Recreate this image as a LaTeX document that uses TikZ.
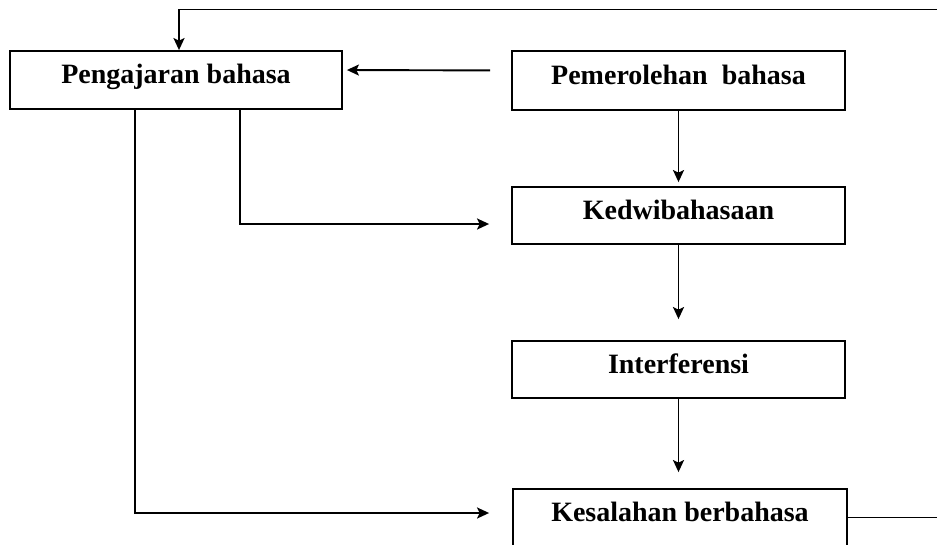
\documentclass[tikz,border=0pt]{standalone}
\usepackage{fontspec}
\setmainfont{Liberation Serif}
\usetikzlibrary{arrows.meta,calc}
\begin{document}
\begin{tikzpicture}[x=1pt,y=-1pt,
  box/.style={draw, line width=1.8pt, minimum width=333pt, minimum height=57pt,
    inner sep=0pt, text height=15pt, text depth=8pt,
    font=\fontsize{28}{30}\selectfont\bfseries},
  link/.style={line width=1.9pt},
  arr/.style={link, -{Stealth[length=12pt,width=11pt,inset=2.5pt]}}]
\useasboundingbox (0,0) rectangle (937,544);
\clip (0,0) rectangle (937,544);

% boxes
\node[box, minimum width=332pt, minimum height=58pt] (peng) at (176,80) {Pengajaran bahasa};
\node[box, minimum height=59pt] (pem) at (678.5,80.5) {Pemerolehan\ \ bahasa};
\node[box] (kedwi) at (678.5,215.5) {Kedwibahasaan};
\node[box] (interf) at (678.5,369.5) {Interferensi};
\node[box, minimum width=334pt] (kesal) at (680,517.5) {Kesalahan berbahasa};

% main chain
\draw[arr, shorten >=4pt] (pem) -- (kedwi);
\draw[arr, shorten >=21pt] (kedwi) -- (interf);
\draw[arr, shorten >=16pt] (interf.south) -- (interf.south |- kesal.north);

% acquisition feeds teaching
\draw[arr, shorten <=21pt, shorten >=4pt] ([yshift=10pt]pem.west) -- ([yshift=10pt]peng.east);

% teaching feeds bilingualism and errors
\draw[arr, shorten >=22pt] (peng.south -| 240,0) |- ([yshift=-8.5pt]kedwi.west);
\draw[arr, shorten >=23pt] (peng.south -| 135,0) |- ([yshift=4.5pt]kesal.west);

% feedback from errors back to teaching
\coordinate (loop) at (945,9.5);
\draw[arr] (kesal.east) -| (loop) -| ([xshift=3pt]peng.north);
\end{tikzpicture}
\end{document}
